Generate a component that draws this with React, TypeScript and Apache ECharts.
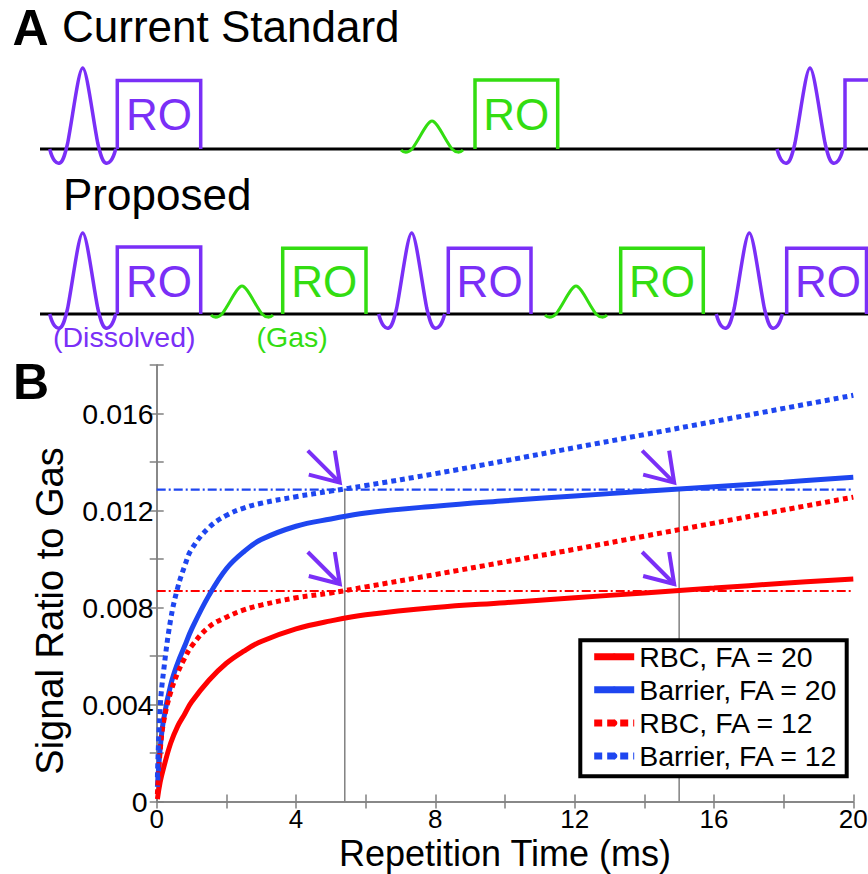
import React, { useEffect, useRef } from "react";
import * as echarts from "echarts";

// ---- data ----
const repetitionTime = [0.02, 0.1, 0.2, 0.4, 0.6, 0.8, 1, 1.5, 2, 2.5, 3, 4, 5, 6, 8, 10, 12, 14, 16, 18, 20];
const rbcFA20 = [0.0001, 0.0008, 0.0014, 0.0024, 0.0031, 0.0036, 0.0041, 0.005, 0.0057, 0.0062, 0.0066, 0.00712, 0.00745, 0.0077, 0.008, 0.0082, 0.0084, 0.0086, 0.0088, 0.009, 0.00918];
const barrierFA20 = [0.0006, 0.0022, 0.0034, 0.0048, 0.0057, 0.0064, 0.0071, 0.0085, 0.0096, 0.0103, 0.0108, 0.01135, 0.01165, 0.0119, 0.01218, 0.0124, 0.0126, 0.01279, 0.01298, 0.01317, 0.01337];
const rbcFA12 = [0.0003, 0.0021, 0.0033, 0.0045, 0.0053, 0.0059, 0.0064, 0.0072, 0.0076, 0.0079, 0.0081, 0.0084, 0.0086, 0.00885, 0.00936, 0.00988, 0.0104, 0.01094, 0.01148, 0.01202, 0.01255];
const barrierFA12 = [0.001, 0.0039, 0.0054, 0.0075, 0.0088, 0.0097, 0.0104, 0.0113, 0.0118, 0.0121, 0.0123, 0.01257, 0.0128, 0.01303, 0.01352, 0.01405, 0.01459, 0.01513, 0.01567, 0.01621, 0.01675];
const matchedTR = [5.4, 15];
const barrierLevel = 0.01286;
const rbcLevel = 0.00868;
const seriesNames = ["RBC, FA = 20", "Barrier, FA = 20", "RBC, FA = 12", "Barrier, FA = 12"];
const xRange = [0, 20];
const yRange = [0, 0.018];

const RED = "#ff0000";
const BLUE = "#1e46f0";
const PURPLE = "#7a2ff7";
const GREEN = "#33dd11";
const GRAY = "#808080";
const FONT = "'Liberation Sans', Arial, Helvetica, sans-serif";

echarts.graphic.registerShape(
  "sincPulse",
  echarts.graphic.extendPath(
    "M-33,0 C-30,12 -26,15 -23,14 C-20,13 -18,7 -15,-6 C-10,-32 -4,-81 0,-81 C4,-81 10,-32 15,-6 C18,7 20,13 23,14 C26,15 30,12 33,0",
    {}
  )
);
echarts.graphic.registerShape(
  "gaussPulse",
  echarts.graphic.extendPath(
    "M-31,1 C-28,4 -24,4 -20,0 C-13,-9 -5,-28 0,-28 C5,-28 13,-9 20,0 C24,4 28,4 31,1",
    {}
  )
);

function pair(xs: number[], ys: number[]) {
  return xs.map((x, i) => [x, ys[i]]);
}

function buildPanelA(): any[] {
  const els: any[] = [];
  const txt = (text: string, x: number, y: number, size: number, color: string, weight = "normal", align = "left", rotation = 0) => ({
    type: "text",
    x,
    y,
    rotation,
    style: { text, fontSize: size, fontFamily: FONT, fontWeight: weight, fill: color, align, verticalAlign: "middle" },
  });
  const box = (x1: number, x2: number, top: number, base: number, color: string, openRight = false) => ({
    type: "polyline",
    shape: { points: openRight ? [[x1, base], [x1, top], [880, top]] : [[x1, base], [x1, top], [x2, top], [x2, base]] },
    style: { stroke: color, lineWidth: 3.5, fill: "none" },
  });
  const pulse = (type: string, x: number, y: number, color: string, w: number) => ({
    type,
    x,
    y,
    style: { stroke: color, lineWidth: w, fill: "none" },
  });
  els.push({ type: "line", shape: { x1: 40, y1: 149, x2: 868, y2: 149 }, style: { stroke: "#000", lineWidth: 3 } });
  els.push({ type: "line", shape: { x1: 40, y1: 314, x2: 868, y2: 314 }, style: { stroke: "#000", lineWidth: 3 } });
  els.push(pulse("sincPulse", 82.7, 149, PURPLE, 3.5));
  els.push(box(117.3, 200.7, 80.5, 149, PURPLE));
  els.push(txt("RO", 159, 114, 44, PURPLE, "normal", "center"));
  els.push(pulse("gaussPulse", 432, 149, GREEN, 3));
  els.push(box(475, 557.7, 80, 149, GREEN));
  els.push(txt("RO", 516.3, 114, 44, GREEN, "normal", "center"));
  els.push(pulse("sincPulse", 810, 149, PURPLE, 3.5));
  els.push(box(845, 900, 80, 149, PURPLE, true));
  els.push(pulse("sincPulse", 82.7, 314, PURPLE, 3.5));
  els.push(box(117.3, 200.7, 247, 314, PURPLE));
  els.push(txt("RO", 159, 281, 44, PURPLE, "normal", "center"));
  els.push(pulse("gaussPulse", 242, 314, GREEN, 3));
  els.push(box(282.7, 366, 248.3, 314, GREEN));
  els.push(txt("RO", 324.3, 281, 44, GREEN, "normal", "center"));
  els.push(pulse("sincPulse", 411.7, 314, PURPLE, 3.5));
  els.push(box(448.3, 531, 248.3, 314, PURPLE));
  els.push(txt("RO", 489.6, 281, 44, PURPLE, "normal", "center"));
  els.push(pulse("gaussPulse", 576, 314, GREEN, 3));
  els.push(box(620.7, 703.3, 248.3, 314, GREEN));
  els.push(txt("RO", 662, 281, 44, GREEN, "normal", "center"));
  els.push(pulse("sincPulse", 749.3, 314, PURPLE, 3.5));
  els.push(box(786.7, 866.5, 248.3, 314, PURPLE));
  els.push(txt("RO", 828, 281, 44, PURPLE, "normal", "center"));
  els.push(txt("A", 12.5, 28, 50, "#000", "bold"));
  els.push(txt("Current Standard", 62, 26.3, 44, "#000"));
  els.push(txt("Proposed", 63, 194.6, 44, "#000"));
  els.push(txt("(Dissolved)", 53, 336.5, 28.5, PURPLE));
  els.push(txt("(Gas)", 256.5, 336.5, 28.5, GREEN));
  els.push(txt("B", 13, 382, 50, "#000", "bold"));
  els.push(txt("Signal Ratio to Gas", 50, 611, 38, "#000", "normal", "center", Math.PI / 2));
  return els;
}

export default function App() {
  const ref = useRef<HTMLDivElement>(null);
  useEffect(() => {
    if (!ref.current) return;
    const chart = echarts.init(ref.current, undefined, { renderer: "svg" });
    const isMajor = (v: number, step: number) => Math.abs(v / step - Math.round(v / step)) < 1e-6;
    const arrowData = [
      [matchedTR[0], barrierLevel],
      [matchedTR[1], barrierLevel],
      [matchedTR[0], rbcLevel],
      [matchedTR[1], rbcLevel],
    ];
    const curve = (name: string, ys: number[], color: string, dotted: boolean) => ({
      name,
      type: "line",
      data: pair(repetitionTime, ys),
      showSymbol: false,
      symbol: "none",
      smooth: 0.4,
      lineStyle: { color, width: 5, type: dotted ? [5, 4] : "solid", cap: "butt" },
      itemStyle: { color },
      z: 5,
      silent: true,
    });
    const refLine = (data: number[][], color: string, width: number, type: any) => ({
      type: "line",
      data,
      showSymbol: false,
      symbol: "none",
      lineStyle: { color, width, type },
      z: 3,
      silent: true,
    });
    const axisCommon = {
      type: "value",
      axisLine: { show: true, lineStyle: { color: GRAY, width: 1.5 } },
      axisTick: { show: true, inside: true, length: 7, lineStyle: { color: GRAY, width: 1.5 } },
      splitLine: { show: false },
    };
    chart.setOption({
      animation: false,
      textStyle: { fontFamily: FONT },
      grid: { left: 156.7, right: 14.7, top: 365, bottom: 72.5, containLabel: false, outerBoundsMode: "none" },
      xAxis: [
        {
          ...axisCommon,
          min: xRange[0],
          max: xRange[1],
          interval: 2,
          name: "Repetition Time (ms)",
          nameLocation: "middle",
          nameGap: 34.3,
          nameTextStyle: { fontSize: 36, color: "#000", fontFamily: FONT },
          axisLabel: {
            fontSize: 26,
            color: "#000",
            margin: 4.5,
            fontFamily: FONT,
            formatter: (v: number) => (isMajor(v, 4) ? String(v) : ""),
          },
        },
        {
          ...axisCommon,
          position: "top",
          min: xRange[0],
          max: xRange[1],
          interval: 2,
          axisLabel: { show: false },
        },
      ],
      yAxis: [
        {
          ...axisCommon,
          min: yRange[0],
          max: yRange[1],
          interval: 0.002,
          axisLabel: {
            fontSize: 28.5,
            color: "#000",
            margin: 3,
            fontFamily: FONT,
            hideOverlap: false,
            formatter: (v: number) => (isMajor(v, 0.004) ? (v === 0 ? "{z|0}" : v.toFixed(3)) : ""),
            rich: { z: { fontSize: 28.5, fontFamily: FONT, color: "#000", padding: [0, 6, 0, 0] } },
          },
        },
        {
          ...axisCommon,
          position: "right",
          min: yRange[0],
          max: yRange[1],
          interval: 0.002,
          axisLabel: { show: false },
        },
      ],
      legend: {
        orient: "vertical",
        left: 580.3,
        top: 640.3,
        selectedMode: false,
        data: seriesNames.map((n, i) => ({
          name: n,
          lineStyle: i < 2 ? { width: 7 } : { width: 7, type: [8, 5] },
        })),
        itemWidth: 40,
        itemHeight: 8,
        itemGap: 3.1,
        textStyle: { fontSize: 28.5, color: "#000", fontFamily: FONT, lineHeight: 30 },
        borderColor: "#000",
        borderWidth: 4,
        padding: [1.4, 8.7, 5.3, 10.4],
        backgroundColor: "#fff",
      },
      series: [
        refLine(pair(xRange, [barrierLevel, barrierLevel]), BLUE, 2.2, [9, 3, 2, 3]),
        refLine(pair(xRange, [rbcLevel, rbcLevel]), RED, 2.2, [9, 3, 2, 3]),
        refLine(pair([matchedTR[0], matchedTR[0]], [0, barrierLevel]), GRAY, 1.5, "solid"),
        refLine(pair([matchedTR[1], matchedTR[1]], [0, barrierLevel]), GRAY, 1.5, "solid"),
        curve(seriesNames[0], rbcFA20, RED, false),
        curve(seriesNames[1], barrierFA20, BLUE, false),
        curve(seriesNames[2], rbcFA12, RED, true),
        curve(seriesNames[3], barrierFA12, BLUE, true),
        {
          type: "custom",
          data: arrowData,
          clip: false,
          z: 8,
          silent: true,
          renderItem: (_p: any, api: any) => {
            const c = api.coord([api.value(0), api.value(1)]);
            const tx = c[0] - 5;
            const ty = c[1] - 7;
            const st = { stroke: PURPLE, lineWidth: 4, fill: "none", lineJoin: "miter" };
            return {
              type: "group",
              children: [
                { type: "polyline", shape: { points: [[tx - 32, ty - 32], [tx, ty]] }, style: st },
                { type: "polyline", shape: { points: [[tx - 5, ty - 32], [tx, ty], [tx - 31, ty - 8]] }, style: st },
              ],
            };
          },
        },
      ],
      graphic: buildPanelA(),
    });
    return () => chart.dispose();
  }, []);
  return <div ref={ref} style={{ position: "absolute", left: 0, top: 0, width: 868, height: 874, background: "#fff" }} />;
}
